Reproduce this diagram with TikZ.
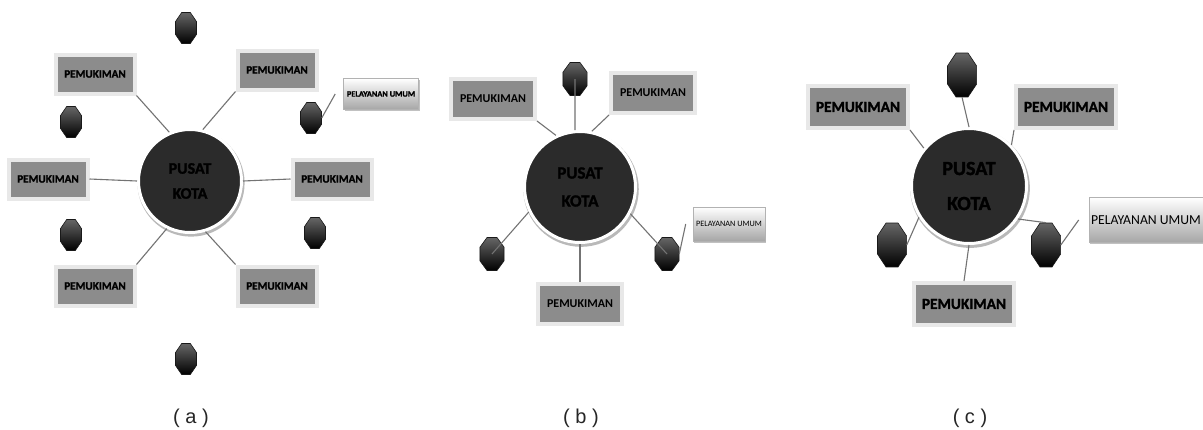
\documentclass[tikz,border=0pt]{standalone}
\usepackage{fontspec}
\setmainfont{Carlito}
\newfontfamily\heavy[FakeBold=1.6]{Carlito}
\newfontfamily\capfont{Liberation Sans}
\usetikzlibrary{shapes.geometric,shadows,calc}
\begin{document}
\begin{tikzpicture}[x=1pt,y=-1pt,
  pbox/.style={rectangle, fill=black!45, draw=black!9, line width=4pt, inner sep=0pt, text=black,
    drop shadow={shadow xshift=1.5pt, shadow yshift=-2pt, fill=black!35, opacity=0.9}},
  pusat/.style={circle, fill=black!83, draw=white, line width=3pt, inner sep=0pt,
    drop shadow={shadow xshift=1pt, shadow yshift=-2pt, shadow scale=1.04, fill=black!30, opacity=0.9}},
  ptext/.style={align=center, inner sep=0pt, text=black},
  oct/.style={regular polygon, regular polygon sides=8, minimum size=#1, inner sep=0pt, transform shape,
    draw=black!90, line width=0.6pt, top color=black!60, middle color=black!80, bottom color=black},
  layan/.style={rectangle, top color=white, bottom color=black!35, draw=black!30, line width=0.6pt, inner sep=0pt, text=black,
    drop shadow={shadow xshift=1pt, shadow yshift=-1.5pt, fill=black!30, opacity=0.8}},
  link/.style={draw=black!55, line width=1.1pt},
  captext/.style={font=\capfont\fontsize{20}{24}\selectfont, text=black!85}
]
\useasboundingbox (0,0) rectangle (1203,429);
\fill[white] (0,0) rectangle (1203,429);

% ---------- (a) ----------
\node[pusat, minimum size=103] (ca) at (190,181) {};
\node[ptext, font=\heavy\fontsize{16}{25}\selectfont\bfseries] (cat) at (ca.center) {PUSAT\\KOTA};
\begin{scope}[every node/.append style={minimum width=79, minimum height=39, font=\heavy\fontsize{11.2}{12}\selectfont\bfseries}]
\node[pbox] (atl) at (95,74) {PEMUKIMAN};
\node[pbox] (atr) at (277,70) {PEMUKIMAN};
\node[pbox] (al) at (48,179) {PEMUKIMAN};
\node[pbox] (ar) at (332,179) {PEMUKIMAN};
\node[pbox] (abl) at (95,286) {PEMUKIMAN};
\node[pbox] (abr) at (277,286) {PEMUKIMAN};
\end{scope}
\node[layan, minimum width=75, minimum height=31, font=\heavy\fontsize{8.3}{10}\selectfont\bfseries] (apl) at (381,94) {PELAYANAN UMUM};
\begin{scope}[xscale=0.68]
\node[oct=33.5] (ao1) at (186/0.68,28) {};
\node[oct=33.5] (ao2) at (71/0.68,122) {};
\node[oct=33.5] (ao3) at (71/0.68,235) {};
\node[oct=33.5] (ao4) at (311/0.68,118) {};
\node[oct=33.5] (ao5) at (315/0.68,233) {};
\node[oct=33.5] (ao6) at (186/0.68,359) {};
\end{scope}
\draw[link] (atl.south east) -- (ca.113);
\draw[link] (atr.south west) -- (ca.76);
\draw[link] (al.east) -- (ca.west);
\draw[link] (ar.west) -- (ca.east);
\draw[link] (abl.north east) -- (ca.244);
\draw[link] (abr.north west) -- (ca.287);
\coordinate (apx) at ($(apl.west)+(-8,0)$);
\draw[link] (ao4.side 7) -- (apx);

% ---------- (b) ----------
\node[pusat, minimum size=111] (cb) at (580,187) {};
\node[ptext, font=\heavy\fontsize{17}{28}\selectfont\bfseries] (cbt) at (cb.center) {PUSAT\\KOTA};
\begin{scope}[every node/.append style={minimum width=84, minimum height=40, font=\fontsize{12}{13}\selectfont\bfseries}]
\node[pbox] (btl) at (493,99) {PEMUKIMAN};
\node[pbox] (btr) at (653,93) {PEMUKIMAN};
\node[pbox] (bb) at (580,304) {PEMUKIMAN};
\end{scope}
\node[layan, minimum width=72, minimum height=34, font=\fontsize{8.2}{10}\selectfont] (bpl) at (729,224) {PELAYANAN UMUM};
\begin{scope}[xscale=0.73]
\node[oct=35.7] (bo1) at (575/0.73,79) {};
\node[oct=35.7] (bo2) at (492/0.73,254) {};
\node[oct=35.7] (bo3) at (667/0.73,254) {};
\end{scope}
\draw[link] (bo1.center) -- (cb.95);
\draw[link] (btl.south east) -- (cb.115);
\draw[link] (btr.south west) -- (cb.78);
\draw[link] (cb.206) -- (bo2.center);
\draw[link] (cb.332) -- (bo3.center);
\draw[link] (cb.south) -- (bb.north);
\coordinate (bpx) at ($(bpl.west)+(-7,0)$);
\draw[link] (bo3.side 7) -- (bpx);

% ---------- (c) ----------
\node[pusat, minimum size=115] (cc) at (969,186) {};
\node[ptext, font=\heavy\fontsize{20}{35}\selectfont\bfseries] (cct) at (cc.center) {PUSAT\\KOTA};
\begin{scope}[every node/.append style={minimum width=100, minimum height=42, line width=5pt, font=\heavy\fontsize{15.3}{16}\selectfont\bfseries}]
\node[pbox] (ctl) at (858,107) {PEMUKIMAN};
\node[pbox] (ctr) at (1066,107) {PEMUKIMAN};
\node[pbox] (cbm) at (964,304) {PEMUKIMAN};
\end{scope}
\node[layan, minimum width=114, minimum height=45, font=\fontsize{13.7}{15}\selectfont] (cpl) at (1146,220) {PELAYANAN UMUM};
\begin{scope}[xscale=0.66]
\node[oct=47.6] (co1) at (962/0.66,75) {};
\node[oct=47.6] (co2) at (892/0.66,245) {};
\node[oct=47.6] (co3) at (1046/0.66,245) {};
\end{scope}
\draw[link] (ctl.south east) -- (cc.140);
\draw[link] (ctr.south west) -- (cc.44);
\draw[link] (co1.south) -- (cc.north);
\draw[link] (cc.212) -- (co2.side 7);
\draw[link] (cc.326) -- (co3.side 1);
\draw[link] (cc.south) -- (cbm.north);
\coordinate (cpx) at ($(cpl.west)+(-10,0)$);
\draw[link] (co3.east) -- (cpx);

% ---------- captions ----------
\node[captext] (la) at (191,418) {( a )};
\node[captext] (lb) at (581,418) {( b )};
\node[captext] (lc) at (970,418) {( c )};
\end{tikzpicture}
\end{document}
